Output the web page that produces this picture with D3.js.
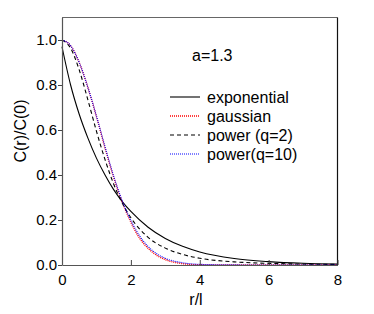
<!DOCTYPE html>
<html>
<head>
<meta charset="utf-8">
<script src="https://cdn.jsdelivr.net/npm/d3@7"></script>
<style>
  body { margin: 0; background: #fff; }
  text { font-family: "Liberation Sans", Arial, sans-serif; }
</style>
</head>
<body>
<div id="chart"></div>
<script>
// r/l sample positions and C(r)/C(0)
var rExp = [0, 0.25, 0.5, 0.75, 1, 1.25, 1.5, 1.75, 2, 2.5, 3, 3.5, 4, 5, 6, 7, 8]
var cExp = [0.97, 0.80, 0.67, 0.565, 0.475, 0.40, 0.335, 0.282, 0.238, 0.168, 0.118, 0.083, 0.058, 0.029, 0.015, 0.0075, 0.004]

var rGau = [0, 0.25, 0.5, 0.75, 1, 1.25, 1.5, 1.75, 2, 2.25, 2.5, 2.75, 3, 3.5, 4, 5, 6, 7, 8]
var cGau = [1, 0.975, 0.90, 0.79, 0.66, 0.52, 0.39, 0.28, 0.19, 0.12, 0.074, 0.043, 0.024, 0.006, 0.001, 0, 0, 0, 0]

var rP2 = [0, 0.25, 0.5, 0.75, 1, 1.25, 1.5, 1.75, 2, 2.5, 3, 3.5, 4, 5, 6, 7, 8]
var cP2 = [1, 0.964, 0.867, 0.735, 0.595, 0.468, 0.36, 0.275, 0.21, 0.123, 0.075, 0.047, 0.03, 0.014, 0.0074, 0.0042, 0.0025]

var rP10 = [0, 0.25, 0.5, 0.75, 1, 1.25, 1.5, 1.75, 2, 2.25, 2.5, 2.75, 3, 3.5, 4, 5, 6, 7, 8]
var cP10 = [1, 0.975, 0.90, 0.79, 0.662, 0.525, 0.395, 0.285, 0.198, 0.13, 0.082, 0.05, 0.03, 0.01, 0.003, 0.0005, 0, 0, 0]

var xTicks = [0, 2, 4, 6, 8]
var yTicks = [0, 0.2, 0.4, 0.6, 0.8, 1.0]
var names = ['exponential', 'gaussian', 'power (q=2)', 'power(q=10)']

var svg = d3.select('#chart')
    .append('svg')
    .attr('width', 374)
    .attr('height', 314)

var plotL = 62, plotR = 337.5, plotT = 17.5, plotB = 265

var x = d3.scaleLinear().domain([0, 8]).range([plotL, plotR])
var y = d3.scaleLinear().domain([0, 1.1]).range([plotB, plotT])

var line = d3.line()
    .x(d => x(d[0]))
    .y(d => y(d[1]))
    .curve(d3.curveMonotoneX)

var series = [
    { r: rExp, c: cExp, color: '#000', dash: null, w: 1.1 },
    { r: rGau, c: cGau, color: '#f00', dash: '1,1', w: 1.4 },
    { r: rP2, c: cP2, color: '#000', dash: '4,3', w: 1.1 },
    { r: rP10, c: cP10, color: '#00f', dash: '1,1', w: 1.1 }
]

series.forEach(s => {
    svg.append('path')
        .datum(s.r.map((v, i) => [v, s.c[i]]))
        .attr('d', line)
        .attr('fill', 'none')
        .attr('stroke', s.color)
        .attr('stroke-width', s.w)
        .attr('stroke-dasharray', s.dash)
})

// frame: top and right
svg.append('line')
    .attr('x1', plotL).attr('x2', plotR)
    .attr('y1', plotT).attr('y2', plotT)
    .attr('stroke', '#666').attr('stroke-width', 1.2)
svg.append('line')
    .attr('x1', plotR).attr('x2', plotR)
    .attr('y1', plotT).attr('y2', plotB)
    .attr('stroke', '#111').attr('stroke-width', 1.2)

svg.append('g')
    .attr('transform', `translate(0,${plotB})`)
    .call(d3.axisBottom(x).tickValues(xTicks).tickSize(-5).tickPadding(9).tickSizeOuter(0))
svg.append('g')
    .attr('transform', `translate(${plotL},0)`)
    .call(d3.axisLeft(y).tickValues(yTicks).tickFormat(d3.format('.1f')).tickSize(4).tickPadding(1).tickSizeOuter(0))

svg.selectAll('.domain').attr('stroke', '#555').attr('stroke-width', 1.2)
svg.selectAll('.tick line').attr('stroke', '#444')
svg.selectAll('.tick text')
    .attr('font-size', 15)
    .attr('font-family', '"Liberation Sans", Arial, sans-serif')
    .attr('fill', '#000')

svg.append('text')
    .attr('transform', 'translate(26,131) rotate(-90)')
    .attr('text-anchor', 'middle')
    .attr('font-size', 16)
    .text('C(r)/C(0)')

svg.append('text')
    .attr('x', 196)
    .attr('y', 305)
    .attr('text-anchor', 'middle')
    .attr('font-size', 16)
    .text('r/l')

svg.append('text')
    .attr('x', 192)
    .attr('y', 61)
    .attr('font-size', 16)
    .text('a=1.3')

var legend = svg.selectAll('.leg')
    .data(series)
    .enter()
    .append('g')
    .attr('class', 'leg')
    .attr('transform', (d, i) => `translate(170,${97 + i * 19})`)

legend.append('line')
    .attr('x1', 0).attr('x2', 30)
    .attr('stroke', d => d.color)
    .attr('stroke-width', d => d.w)
    .attr('stroke-dasharray', d => d.dash)

legend.append('text')
    .attr('x', 37)
    .attr('y', 5.5)
    .attr('font-size', 16)
    .text((d, i) => names[i])
</script>
</body>
</html>
